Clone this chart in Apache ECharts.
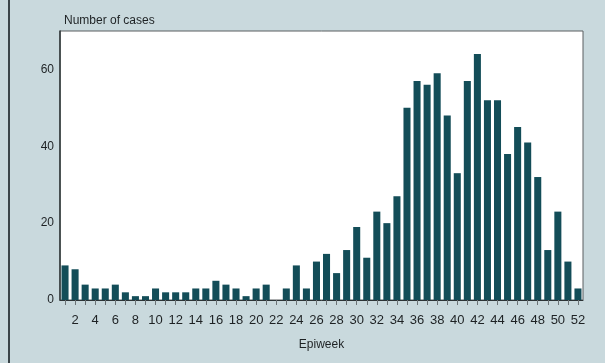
<!DOCTYPE html>
<html>
<head>
<meta charset="utf-8">
<script src="https://cdn.jsdelivr.net/npm/echarts@6/dist/echarts.min.js"></script>
<style>
  html, body { margin: 0; padding: 0; background: #c9d9dd; }
  #frame { position: absolute; left: 8px; top: 0; width: 2px; height: 363px; background: #3a4448; }
  #chart { width: 605px; height: 363px; }
</style>
</head>
<body>
<div id="chart"></div>
<div id="frame"></div>
<script>
// epiweeks 1..52
const weeks = [
  "1", "2", "3", "4", "5", "6", "7", "8", "9", "10", "11", "12", "13",
  "14", "15", "16", "17", "18", "19", "20", "21", "22", "23", "24", "25", "26",
  "27", "28", "29", "30", "31", "32", "33", "34", "35", "36", "37", "38", "39",
  "40", "41", "42", "43", "44", "45", "46", "47", "48", "49", "50", "51", "52",
];
// 每周病例数
const cases = [
  9, 8, 4, 3, 3, 4, 2, 1, 1, 3, 2, 2, 2,
  3, 3, 5, 4, 3, 1, 3, 4, 0, 3, 9, 3, 10,
  12, 7, 13, 19, 11, 23, 20, 27, 50, 57, 56, 59, 48,
  33, 57, 64, 52, 52, 38, 45, 41, 32, 13, 23, 10, 3,
];
const yTicks = [0, 20, 40, 60];

const BAR_COLOR = "#134d58";
const TEXT_COLOR = "#1e2224";

const chart = echarts.init(document.getElementById("chart"));

const option = {
  backgroundColor: "#c9d9dd",
  animation: false,
  title: {
    text: "Number of cases",
    left: 59,
    top: 10,
    textStyle: { fontFamily: "Liberation Sans", fontSize: 12, fontWeight: "normal", color: TEXT_COLOR },
  },
  grid: {
    left: 60,
    right: 22,
    top: 31,
    bottom: 63,
    show: true,
    backgroundColor: "#ffffff",
    borderColor: "#5a5f61",
    borderWidth: 1,
  },
  xAxis: {
    type: "category",
    data: weeks,
    name: "Epiweek",
    nameLocation: "middle",
    nameGap: 39,
    nameTextStyle: { fontFamily: "Liberation Sans", fontSize: 12, color: TEXT_COLOR },
    axisLine: { show: true, lineStyle: { color: "#2c3436", width: 1 } },
    axisTick: {
      show: true,
      alignWithLabel: true,
      interval: 0,
      length: 5,
      lineStyle: { color: "#6b7376", width: 1 },
    },
    axisLabel: {
      interval: (index) => index % 2 === 1,
      margin: 14,
      fontFamily: "Liberation Sans",
      fontSize: 13,
      color: TEXT_COLOR,
    },
  },
  yAxis: {
    type: "value",
    min: 0,
    max: 70,
    interval: 20,
    axisLine: { show: true, lineStyle: { color: "#2c3436", width: 1.5 } },
    axisTick: { show: false },
    splitLine: { show: false },
    axisLabel: {
      margin: 6,
      fontFamily: "Liberation Sans",
      fontSize: 12,
      color: TEXT_COLOR,
      formatter: (value) => (yTicks.includes(value) ? String(value) : ""),
    },
  },
  series: [
    {
      type: "bar",
      data: cases,
      barCategoryGap: "30%",
      itemStyle: { color: BAR_COLOR },
    },
  ],
};

chart.setOption(option);
</script>
</body>
</html>
